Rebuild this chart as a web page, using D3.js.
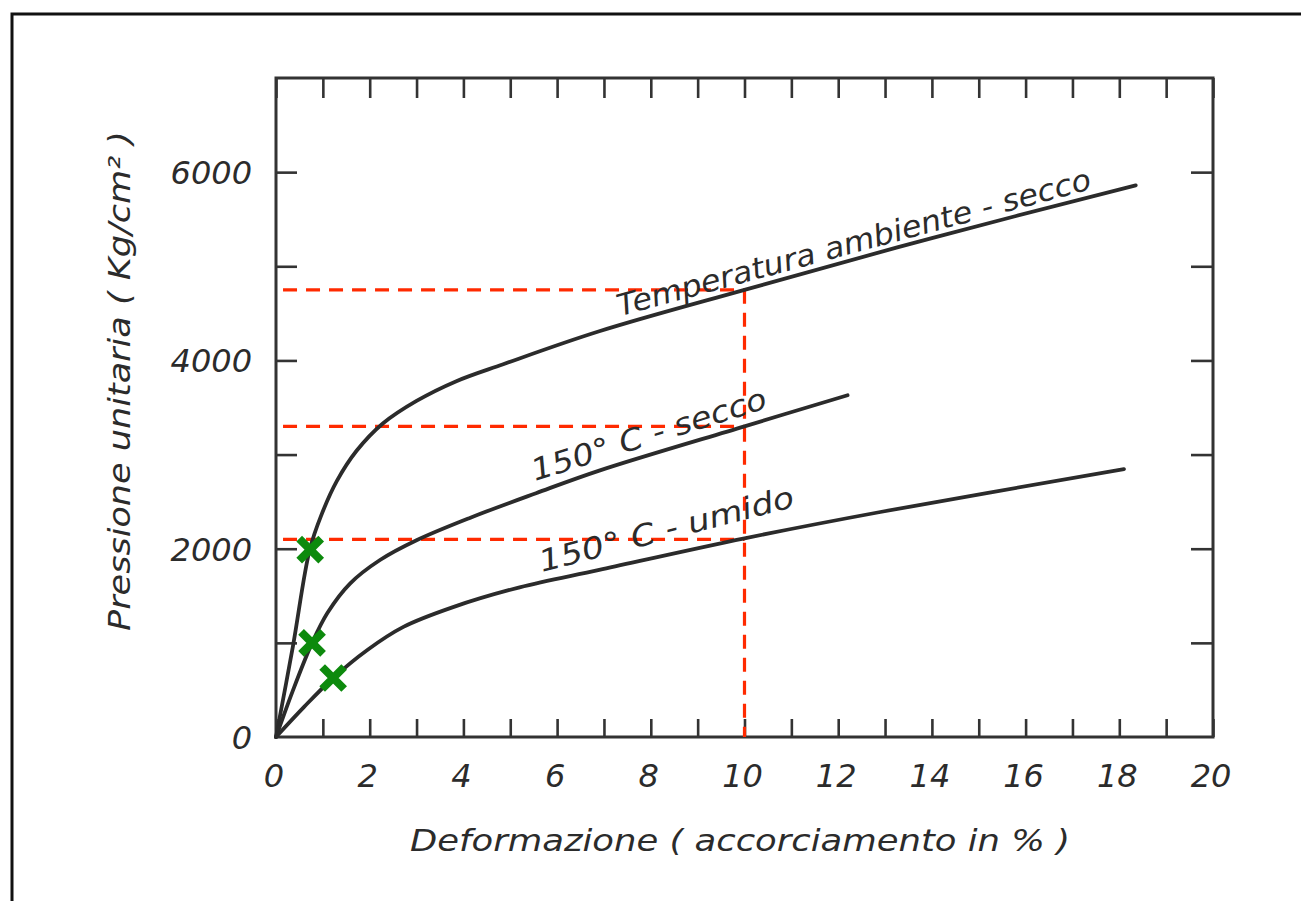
<!DOCTYPE html>
<html>
<head>
<meta charset="utf-8">
<script src="https://cdn.jsdelivr.net/npm/d3@7"></script>
<style>
    body { margin: 0; background: #fff; }
    svg text { font-family: "DejaVu Sans", sans-serif; font-style: italic; fill: #2b2b2b; }
</style>
</head>
<body>
<svg id="chart" width="1301" height="901"></svg>
<script>
// Dati (deformazione %, pressione kg/cm2)
const ambienteX = [0, 0.36, 0.72, 0.97, 1.3, 1.72, 2.28, 3.0, 3.85, 4.85, 6.9, 10, 14, 18.35];
const ambienteY = [0, 960, 1990, 2360, 2720, 3040, 3330, 3570, 3780, 3960, 4310, 4750, 5300, 5860];

const seccoX = [0, 0.35, 0.77, 1.1, 1.58, 2.22, 3.0, 4.15, 5.55, 6.9, 10, 12.2];
const seccoY = [0, 480, 1000, 1320, 1630, 1880, 2090, 2330, 2590, 2830, 3300, 3630];

const umidoX = [0, 0.6, 1.22, 1.95, 2.72, 3.78, 5.2, 6.9, 10, 12.9, 18.1];
const umidoY = [0, 320, 627, 925, 1170, 1380, 1590, 1775, 2110, 2390, 2845];

const markerX = [0.73, 0.77, 1.22];
const markerY = [1990, 1000, 627];

const refX = 10;
const refY = [4750, 3300, 2100];

const xTicks = d3.range(0, 21, 1);
const xLabels = [0, 2, 4, 6, 8, 10, 12, 14, 16, 18, 20];
const yTicks = [1000, 2000, 3000, 4000, 5000, 6000];
const yLabels = [0, 2000, 4000, 6000];

const curveLabels = [
    { text: "Temperatura  ambiente  -  secco", x: 7.34, y: 4470, angle: -15.1, length: 490 },
    { text: "150° C  -  secco", x: 5.53, y: 2718, angle: -17.5, length: 245 },
    { text: "150° C  -  umido", x: 5.68, y: 1752, angle: -14.5, length: 262 }
];

// Impostazione
const svg = d3.select("#chart");
const plot = { left: 276, right: 1213, top: 78, bottom: 737 };

const xScale = d3.scaleLinear().domain([0, 20]).range([plot.left, plot.right]);
const yScale = d3.scaleLinear().domain([0, 7000]).range([plot.bottom, plot.top]);

// Cornice esterna
svg.append("rect")
    .attr("x", 12)
    .attr("y", 14)
    .attr("width", 1300)
    .attr("height", 900)
    .attr("fill", "none")
    .attr("stroke", "#111")
    .attr("stroke-width", 3);

// Assi con tacche verso l'interno
const bottomAxis = svg.append("g")
    .attr("transform", "translate(0," + plot.bottom + ")")
    .call(d3.axisBottom(xScale).tickValues(xTicks).tickSize(-18).tickSizeOuter(0).tickFormat(""));

const topAxis = svg.append("g")
    .attr("transform", "translate(0," + plot.top + ")")
    .call(d3.axisTop(xScale).tickValues(xTicks).tickSize(-20).tickSizeOuter(0).tickFormat(""));

const leftAxis = svg.append("g")
    .attr("transform", "translate(" + plot.left + ",0)")
    .call(d3.axisLeft(yScale).tickValues(yTicks).tickSize(-21).tickSizeOuter(0).tickFormat(""));

const rightAxis = svg.append("g")
    .attr("transform", "translate(" + plot.right + ",0)")
    .call(d3.axisRight(yScale).tickValues(yTicks).tickSize(-22).tickSizeOuter(0).tickFormat(""));

[bottomAxis, topAxis, leftAxis, rightAxis].forEach(function(axis) {
    axis.select(".domain").remove();
    axis.selectAll(".tick line")
        .attr("stroke", "#333")
        .attr("stroke-width", 2.6);
});

svg.append("rect")
    .attr("x", plot.left)
    .attr("y", plot.top)
    .attr("width", plot.right - plot.left)
    .attr("height", plot.bottom - plot.top)
    .attr("fill", "none")
    .attr("stroke", "#333")
    .attr("stroke-width", 3);

// Etichette delle tacche
svg.append("g")
    .selectAll("text")
    .data(xLabels)
    .enter()
    .append("text")
    .attr("x", function(d) { return xScale(d) - 2; })
    .attr("y", 787)
    .attr("text-anchor", "middle")
    .attr("font-size", 32)
    .text(function(d) { return d; });

svg.append("g")
    .selectAll("text")
    .data(yLabels)
    .enter()
    .append("text")
    .attr("x", plot.left - 24)
    .attr("y", function(d) { return yScale(d) + 12; })
    .attr("text-anchor", "end")
    .attr("font-size", 32)
    .text(function(d) { return d; });

// Titoli degli assi
svg.append("text")
    .attr("x", 740)
    .attr("y", 851)
    .attr("text-anchor", "middle")
    .attr("font-size", 30)
    .attr("textLength", 660)
    .attr("lengthAdjust", "spacingAndGlyphs")
    .text("Deformazione ( accorciamento  in  % )");

svg.append("text")
    .attr("transform", "translate(130,381) rotate(-90)")
    .attr("text-anchor", "middle")
    .attr("font-size", 30)
    .attr("textLength", 500)
    .attr("lengthAdjust", "spacingAndGlyphs")
    .text("Pressione  unitaria  ( Kg/cm² )");

// Linee tratteggiate di riferimento
const refGroup = svg.append("g")
    .attr("stroke", "#ff2a00")
    .attr("stroke-width", 3.2)
    .attr("stroke-dasharray", "14,9")
    .attr("fill", "none");

refGroup.selectAll("line.h")
    .data(refY)
    .enter()
    .append("line")
    .attr("class", "h")
    .attr("x1", xScale(0.15))
    .attr("x2", xScale(refX))
    .attr("y1", function(d) { return yScale(d); })
    .attr("y2", function(d) { return yScale(d); });

refGroup.append("line")
    .attr("x1", xScale(refX))
    .attr("x2", xScale(refX))
    .attr("y1", yScale(d3.max(refY)))
    .attr("y2", yScale(0));

// Curve
const line = d3.line()
    .x(function(d) { return xScale(d[0]); })
    .y(function(d) { return yScale(d[1]); })
    .curve(d3.curveCatmullRom.alpha(0.5));

[[ambienteX, ambienteY], [seccoX, seccoY], [umidoX, umidoY]].forEach(function(series) {
    const points = series[0].map(function(x, i) { return [x, series[1][i]]; });
    svg.append("path")
        .datum(points)
        .attr("d", line)
        .attr("fill", "none")
        .attr("stroke", "#2b2b2b")
        .attr("stroke-width", 3.8)
        .attr("stroke-linecap", "round")
        .attr("stroke-linejoin", "round");
});

// Etichette delle curve
curveLabels.forEach(function(label) {
    svg.append("text")
        .attr("transform", "translate(" + xScale(label.x) + "," + yScale(label.y) + ") rotate(" + label.angle + ")")
        .attr("font-size", 30)
        .attr("textLength", label.length)
        .attr("lengthAdjust", "spacingAndGlyphs")
        .text(label.text);
});

// Crocette verdi
const markerSize = 11;
markerX.forEach(function(x, i) {
    const cx = xScale(x);
    const cy = yScale(markerY[i]);
    svg.append("path")
        .attr("d", "M" + (cx - markerSize) + "," + (cy - markerSize) + "L" + (cx + markerSize) + "," + (cy + markerSize) +
            "M" + (cx - markerSize) + "," + (cy + markerSize) + "L" + (cx + markerSize) + "," + (cy - markerSize))
        .attr("stroke", "#0d8a0d")
        .attr("stroke-width", 8);
});
</script>
</body>
</html>
